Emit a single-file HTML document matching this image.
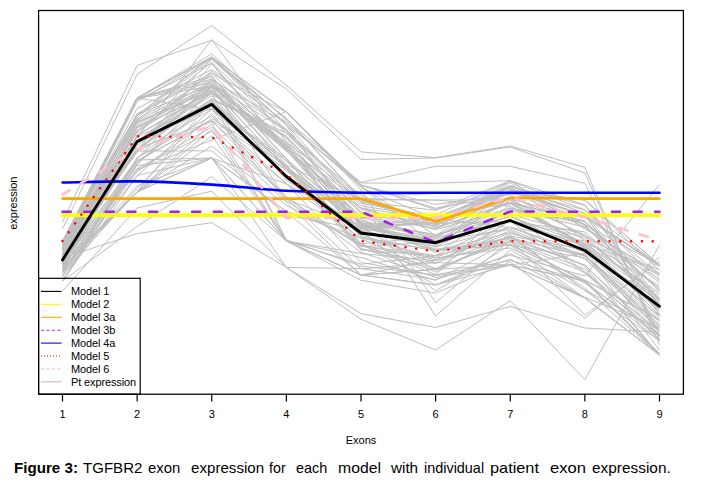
<!DOCTYPE html>
<html><head><meta charset="utf-8"><style>
html,body{margin:0;padding:0;background:#fff;width:702px;height:484px;overflow:hidden;position:relative;font-family:"Liberation Sans",sans-serif;}
svg{position:absolute;left:0;top:0;}
.w{position:absolute;top:458.6px;font-size:15px;line-height:18px;color:#000;white-space:pre;transform-origin:0 0;}
.fig{position:absolute;left:14px;top:458px;font-size:15px;line-height:18px;font-weight:bold;}
</style></head><body>
<svg width="702" height="484" viewBox="0 0 702 484">
<g fill="none" stroke="#bebebe" stroke-width="1" stroke-linejoin="round">
<polyline points="62.50,229.00 137.12,74.30 211.75,25.40 286.38,85.30 361.00,151.90 435.62,157.60 510.25,146.00 584.88,167.40 659.50,345.00"/>
<polyline points="62.50,222.00 137.12,65.40 211.75,40.40 286.38,89.00 361.00,159.40 435.62,158.00 510.25,147.00 584.88,173.00 659.50,340.00"/>
<polyline points="62.50,245.00 137.12,98.00 211.75,54.00 286.38,120.00 361.00,182.40 435.62,166.30 510.25,166.30 584.88,183.30 659.50,335.00"/>
<polyline points="62.50,248.00 137.12,101.50 211.75,58.60 286.38,125.00 361.00,183.00 435.62,183.20 510.25,180.60 584.88,205.00 659.50,300.00"/>
<polyline points="62.50,291.00 137.12,208.00 211.75,191.20 286.38,267.50 361.00,319.20 435.62,350.00 510.25,300.60 584.88,379.80 659.50,245.00"/>
<polyline points="62.50,258.00 137.12,233.60 211.75,222.70 286.38,267.50 361.00,313.60 435.62,327.50 510.25,306.40 584.88,328.00 659.50,332.00"/>
<polyline points="62.50,270.00 137.12,186.00 211.75,158.00 286.38,267.50 361.00,268.50 435.62,279.60 510.25,255.00 584.88,276.00 659.50,184.60"/>
<polyline points="62.50,281.00 137.12,226.50 211.75,176.60 286.38,241.00 361.00,280.30 435.62,293.00 510.25,262.00 584.88,318.00 659.50,257.00"/>
<polyline points="62.50,262.00 137.12,170.00 211.75,140.00 286.38,111.40 361.00,190.00 435.62,302.60 510.25,240.00 584.88,315.00 659.50,261.40"/>
<polyline points="62.50,250.00 137.12,137.00 211.75,39.60 286.38,142.00 361.00,200.00 435.62,316.00 510.25,250.00 584.88,290.00 659.50,330.00"/>
<polyline points="62.50,255.00 137.12,150.00 211.75,64.00 286.38,150.00 361.00,230.00 435.62,291.00 510.25,245.00 584.88,280.00 659.50,320.00"/>
<polyline points="62.50,242.37 137.12,115.74 211.75,57.00 286.38,112.00 361.00,185.00 435.62,204.43 510.25,194.11 584.88,200.00 659.50,265.00"/>
<polyline points="62.50,245.09 137.12,125.55 211.75,80.09 286.38,122.81 361.00,186.23 435.62,235.52 510.25,189.77 584.88,200.00 659.50,265.00"/>
<polyline points="62.50,243.17 137.12,98.00 211.75,57.82 286.38,118.46 361.00,198.68 435.62,222.38 510.25,191.25 584.88,200.00 659.50,270.22"/>
<polyline points="62.50,241.00 137.12,98.00 211.75,57.00 286.38,112.00 361.00,186.48 435.62,245.94 510.25,197.70 584.88,224.81 659.50,265.00"/>
<polyline points="62.50,246.82 137.12,108.57 211.75,69.53 286.38,122.24 361.00,185.00 435.62,209.54 510.25,181.00 584.88,228.95 659.50,273.28"/>
<polyline points="62.50,244.36 137.12,120.22 211.75,62.24 286.38,133.42 361.00,195.22 435.62,225.04 510.25,198.90 584.88,217.81 659.50,265.00"/>
<polyline points="62.50,247.61 137.12,132.38 211.75,71.00 286.38,131.48 361.00,203.33 435.62,216.67 510.25,191.51 584.88,215.79 659.50,266.77"/>
<polyline points="62.50,241.59 137.12,114.57 211.75,85.16 286.38,147.21 361.00,216.22 435.62,228.44 510.25,202.26 584.88,221.10 659.50,290.71"/>
<polyline points="62.50,244.90 137.12,98.39 211.75,86.19 286.38,137.37 361.00,212.55 435.62,228.86 510.25,182.59 584.88,241.20 659.50,315.45"/>
<polyline points="62.50,250.24 137.12,117.59 211.75,59.23 286.38,118.59 361.00,199.32 435.62,227.38 510.25,203.20 584.88,221.26 659.50,300.82"/>
<polyline points="62.50,250.16 137.12,130.57 211.75,73.43 286.38,112.00 361.00,185.00 435.62,208.26 510.25,194.65 584.88,236.98 659.50,274.37"/>
<polyline points="62.50,250.49 137.12,115.55 211.75,57.00 286.38,125.41 361.00,227.73 435.62,238.30 510.25,189.56 584.88,210.07 659.50,280.92"/>
<polyline points="62.50,252.96 137.12,121.77 211.75,90.68 286.38,138.23 361.00,226.90 435.62,217.68 510.25,187.57 584.88,224.81 659.50,305.76"/>
<polyline points="62.50,250.05 137.12,98.00 211.75,57.00 286.38,112.16 361.00,187.50 435.62,219.10 510.25,190.34 584.88,227.50 659.50,288.18"/>
<polyline points="62.50,248.64 137.12,123.27 211.75,85.04 286.38,130.39 361.00,198.82 435.62,200.00 510.25,206.24 584.88,243.40 659.50,292.50"/>
<polyline points="62.50,241.22 137.12,114.19 211.75,75.88 286.38,168.56 361.00,217.68 435.62,214.89 510.25,181.00 584.88,225.86 659.50,290.50"/>
<polyline points="62.50,248.90 137.12,98.00 211.75,109.51 286.38,171.14 361.00,223.18 435.62,225.14 510.25,181.00 584.88,209.91 659.50,265.00"/>
<polyline points="62.50,241.00 137.12,98.00 211.75,82.45 286.38,164.99 361.00,199.82 435.62,200.00 510.25,199.70 584.88,235.00 659.50,279.09"/>
<polyline points="62.50,245.65 137.12,99.94 211.75,63.12 286.38,147.99 361.00,219.16 435.62,252.55 510.25,208.85 584.88,227.16 659.50,276.28"/>
<polyline points="62.50,243.08 137.12,98.00 211.75,76.45 286.38,158.73 361.00,225.29 435.62,246.59 510.25,211.17 584.88,221.47 659.50,290.00"/>
<polyline points="62.50,244.52 137.12,98.00 211.75,57.00 286.38,124.83 361.00,205.87 435.62,217.31 510.25,214.48 584.88,234.86 659.50,304.22"/>
<polyline points="62.50,248.08 137.12,98.00 211.75,79.16 286.38,129.25 361.00,222.86 435.62,234.61 510.25,216.67 584.88,243.83 659.50,269.80"/>
<polyline points="62.50,248.99 137.12,113.92 211.75,72.93 286.38,148.71 361.00,224.56 435.62,244.26 510.25,189.83 584.88,215.82 659.50,265.00"/>
<polyline points="62.50,256.12 137.12,120.70 211.75,82.71 286.38,147.09 361.00,226.26 435.62,222.84 510.25,192.06 584.88,215.27 659.50,314.50"/>
<polyline points="62.50,253.48 137.12,131.49 211.75,85.44 286.38,149.08 361.00,212.02 435.62,224.01 510.25,188.12 584.88,215.75 659.50,313.99"/>
<polyline points="62.50,254.59 137.12,127.57 211.75,84.16 286.38,151.43 361.00,207.87 435.62,229.63 510.25,208.29 584.88,223.78 659.50,282.86"/>
<polyline points="62.50,247.26 137.12,135.72 211.75,58.96 286.38,129.73 361.00,201.75 435.62,217.78 510.25,202.78 584.88,245.70 659.50,306.41"/>
<polyline points="62.50,251.10 137.12,126.92 211.75,93.78 286.38,147.28 361.00,201.42 435.62,210.31 510.25,186.62 584.88,205.31 659.50,304.45"/>
<polyline points="62.50,254.19 137.12,150.11 211.75,85.78 286.38,161.21 361.00,231.56 435.62,219.14 510.25,185.53 584.88,213.52 659.50,305.14"/>
<polyline points="62.50,249.80 137.12,141.88 211.75,86.41 286.38,144.50 361.00,209.44 435.62,226.37 510.25,185.76 584.88,213.37 659.50,274.51"/>
<polyline points="62.50,268.44 137.12,191.82 211.75,100.00 286.38,133.00 361.00,208.12 435.62,218.87 510.25,227.60 584.88,252.04 659.50,300.64"/>
<polyline points="62.50,260.60 137.12,119.06 211.75,78.46 286.38,143.73 361.00,217.82 435.62,236.56 510.25,207.79 584.88,239.33 659.50,297.59"/>
<polyline points="62.50,265.03 137.12,148.55 211.75,98.71 286.38,135.77 361.00,213.46 435.62,244.04 510.25,200.11 584.88,248.10 659.50,305.29"/>
<polyline points="62.50,257.33 137.12,140.65 211.75,108.16 286.38,158.33 361.00,243.80 435.62,236.59 510.25,202.10 584.88,244.75 659.50,294.61"/>
<polyline points="62.50,263.04 137.12,158.62 211.75,80.31 286.38,158.68 361.00,248.67 435.62,263.63 510.25,220.94 584.88,237.02 659.50,303.03"/>
<polyline points="62.50,256.23 137.12,135.90 211.75,90.11 286.38,180.46 361.00,227.96 435.62,223.36 510.25,221.46 584.88,231.95 659.50,299.24"/>
<polyline points="62.50,257.15 137.12,127.10 211.75,86.70 286.38,198.88 361.00,228.52 435.62,240.61 510.25,229.40 584.88,258.94 659.50,330.18"/>
<polyline points="62.50,249.16 137.12,122.53 211.75,89.62 286.38,168.49 361.00,245.74 435.62,255.44 510.25,219.71 584.88,246.52 659.50,310.96"/>
<polyline points="62.50,264.20 137.12,143.01 211.75,87.18 286.38,145.07 361.00,236.73 435.62,262.66 510.25,237.37 584.88,265.11 659.50,335.59"/>
<polyline points="62.50,264.42 137.12,134.93 211.75,91.35 286.38,150.22 361.00,234.38 435.62,239.31 510.25,216.37 584.88,250.94 659.50,337.39"/>
<polyline points="62.50,255.16 137.12,150.73 211.75,87.80 286.38,169.27 361.00,224.08 435.62,241.85 510.25,197.97 584.88,247.58 659.50,309.51"/>
<polyline points="62.50,272.55 137.12,165.38 211.75,158.00 286.38,211.34 361.00,238.15 435.62,250.60 510.25,245.08 584.88,257.87 659.50,328.93"/>
<polyline points="62.50,257.45 137.12,145.46 211.75,93.35 286.38,145.95 361.00,236.81 435.62,257.64 510.25,227.22 584.88,241.12 659.50,286.05"/>
<polyline points="62.50,262.51 137.12,127.89 211.75,92.66 286.38,142.10 361.00,224.69 435.62,247.11 510.25,227.13 584.88,255.91 659.50,325.45"/>
<polyline points="62.50,260.03 137.12,141.06 211.75,95.71 286.38,175.93 361.00,243.67 435.62,274.70 510.25,203.62 584.88,248.72 659.50,317.49"/>
<polyline points="62.50,270.76 137.12,137.00 211.75,102.69 286.38,165.63 361.00,246.49 435.62,241.99 510.25,221.10 584.88,250.22 659.50,320.43"/>
<polyline points="62.50,253.16 137.12,148.46 211.75,121.68 286.38,183.86 361.00,226.09 435.62,250.33 510.25,232.62 584.88,255.30 659.50,324.75"/>
<polyline points="62.50,259.51 137.12,141.96 211.75,80.40 286.38,150.61 361.00,221.07 435.62,234.61 510.25,212.63 584.88,272.17 659.50,330.67"/>
<polyline points="62.50,281.00 137.12,164.52 211.75,90.21 286.38,178.49 361.00,227.07 435.62,269.81 510.25,220.04 584.88,246.08 659.50,298.75"/>
<polyline points="62.50,259.96 137.12,149.75 211.75,99.83 286.38,166.67 361.00,248.78 435.62,270.15 510.25,236.03 584.88,249.61 659.50,308.97"/>
<polyline points="62.50,281.00 137.12,163.00 211.75,101.03 286.38,166.60 361.00,223.34 435.62,237.28 510.25,221.16 584.88,273.25 659.50,336.30"/>
<polyline points="62.50,257.01 137.12,151.94 211.75,109.49 286.38,160.68 361.00,222.60 435.62,249.17 510.25,242.50 584.88,272.07 659.50,339.53"/>
<polyline points="62.50,268.54 137.12,159.96 211.75,158.00 286.38,183.69 361.00,238.35 435.62,272.28 510.25,234.78 584.88,290.60 659.50,340.48"/>
<polyline points="62.50,265.55 137.12,140.99 211.75,92.94 286.38,239.89 361.00,266.10 435.62,274.84 510.25,260.56 584.88,280.47 659.50,353.52"/>
<polyline points="62.50,266.52 137.12,171.81 211.75,118.29 286.38,165.50 361.00,236.85 435.62,250.40 510.25,238.11 584.88,256.04 659.50,315.89"/>
<polyline points="62.50,281.00 137.12,168.85 211.75,127.07 286.38,197.10 361.00,252.28 435.62,277.52 510.25,265.00 584.88,253.31 659.50,350.11"/>
<polyline points="62.50,267.17 137.12,192.00 211.75,135.66 286.38,241.00 361.00,275.00 435.62,259.54 510.25,244.03 584.88,281.12 659.50,340.83"/>
<polyline points="62.50,265.57 137.12,158.33 211.75,99.44 286.38,241.00 361.00,253.46 435.62,260.65 510.25,233.09 584.88,255.06 659.50,321.88"/>
<polyline points="62.50,271.77 137.12,160.55 211.75,120.29 286.38,169.33 361.00,250.07 435.62,255.56 510.25,237.79 584.88,256.20 659.50,326.97"/>
<polyline points="62.50,263.82 137.12,192.00 211.75,146.13 286.38,205.44 361.00,243.90 435.62,285.00 510.25,265.00 584.88,297.37 659.50,327.55"/>
<polyline points="62.50,275.14 137.12,163.70 211.75,103.72 286.38,168.36 361.00,234.60 435.62,260.33 510.25,230.72 584.88,266.11 659.50,355.00"/>
<polyline points="62.50,267.07 137.12,168.88 211.75,131.54 286.38,202.32 361.00,275.00 435.62,269.31 510.25,238.88 584.88,265.17 659.50,339.47"/>
<polyline points="62.50,281.00 137.12,157.70 211.75,115.91 286.38,183.47 361.00,262.51 435.62,275.56 510.25,265.00 584.88,280.65 659.50,319.28"/>
<polyline points="62.50,275.33 137.12,188.42 211.75,113.25 286.38,200.95 361.00,246.02 435.62,258.00 510.25,247.92 584.88,283.04 659.50,335.26"/>
<polyline points="62.50,257.52 137.12,151.00 211.75,150.80 286.38,215.01 361.00,229.50 435.62,250.07 510.25,244.98 584.88,298.00 659.50,355.00"/>
<polyline points="62.50,277.01 137.12,160.87 211.75,120.54 286.38,197.87 361.00,245.45 435.62,268.38 510.25,241.28 584.88,281.78 659.50,355.00"/>
<polyline points="62.50,281.00 137.12,175.79 211.75,109.16 286.38,198.42 361.00,268.89 435.62,262.58 510.25,265.00 584.88,281.26 659.50,353.92"/>
<polyline points="62.50,267.00 137.12,192.00 211.75,129.24 286.38,241.00 361.00,257.47 435.62,280.39 510.25,240.62 584.88,268.99 659.50,355.00"/>
<polyline points="62.50,271.69 137.12,175.50 211.75,158.00 286.38,211.75 361.00,275.00 435.62,269.21 510.25,265.00 584.88,298.00 659.50,355.00"/>
<polyline points="62.50,268.91 137.12,191.74 211.75,123.61 286.38,241.00 361.00,275.00 435.62,285.00 510.25,259.21 584.88,298.00 659.50,355.00"/>
<polyline points="62.50,272.74 137.12,192.00 211.75,158.00 286.38,241.00 361.00,264.23 435.62,255.91 510.25,236.74 584.88,288.26 659.50,355.00"/>
<polyline points="62.50,264.16 137.12,192.00 211.75,158.00 286.38,241.00 361.00,275.00 435.62,285.00 510.25,253.55 584.88,298.00 659.50,355.00"/>
</g>
<g fill="none" stroke-linejoin="round">
<polyline points="62.50,215.10 137.12,215.10 211.75,215.10 286.38,215.10 361.00,215.10 435.62,215.10 510.25,215.10 584.88,215.10 659.50,215.10" stroke="#ffff00" stroke-width="3.7" stroke-linecap="square"/>
<polyline points="62.50,198.60 137.12,198.60 211.75,198.60 286.38,198.60 361.00,198.60 435.62,221.60 510.25,197.80 584.88,198.60 659.50,198.60" stroke="#ffa500" stroke-width="2.6" stroke-linecap="round"/>
<polyline points="62.50,211.80 137.12,211.80 211.75,211.80 286.38,211.80 361.00,211.80 435.62,242.40 510.25,211.50 584.88,211.80 659.50,211.80" stroke="#a020f0" stroke-width="2.5" stroke-linecap="round" stroke-dasharray="8.2 13.4"/>
<path d="M62.50,182.50 C74.94,182.32 112.25,181.05 137.12,181.40 C162.00,181.75 186.88,183.03 211.75,184.60 C236.62,186.17 261.50,189.45 286.38,190.80 C311.25,192.15 336.12,192.37 361.00,192.70 C385.88,193.03 410.75,192.78 435.62,192.80 C460.50,192.82 485.38,192.80 510.25,192.80 C535.12,192.80 560.00,192.80 584.88,192.80 C609.75,192.80 647.06,192.80 659.50,192.80" stroke="#0000ff" stroke-width="2.6" stroke-linecap="round"/>
<polyline points="62.50,260.00 137.12,141.60 211.75,104.40 286.38,176.50 361.00,233.00 435.62,242.70 510.25,220.50 584.88,250.50 659.50,306.30" stroke="#000" stroke-width="2.9" stroke-linecap="round"/>
<polyline points="62.50,241.00 137.12,136.30 211.75,137.20 286.38,174.00 361.00,241.00 435.62,251.40 510.25,241.10 584.88,241.30 659.50,241.30" stroke="#ff0000" stroke-width="2.4" stroke-linecap="round" stroke-dasharray="0.1 10.69"/>
<polyline points="62.50,194.50 137.12,149.00 211.75,126.00 286.38,218.00 361.00,218.00 435.62,218.00 510.25,197.30 584.88,217.50 659.50,240.50" stroke="#ffc0cb" stroke-width="2.7" stroke-linecap="round" stroke-dasharray="8.2 13.32"/>
</g>
<rect x="38.6" y="10.5" width="644.8" height="383.7" fill="none" stroke="#000" stroke-width="1.25"/>
<g stroke="#000" stroke-width="1.2">
<line x1="62.50" y1="394" x2="62.50" y2="401.5"/><line x1="137.12" y1="394" x2="137.12" y2="401.5"/><line x1="211.75" y1="394" x2="211.75" y2="401.5"/><line x1="286.38" y1="394" x2="286.38" y2="401.5"/><line x1="361.00" y1="394" x2="361.00" y2="401.5"/><line x1="435.62" y1="394" x2="435.62" y2="401.5"/><line x1="510.25" y1="394" x2="510.25" y2="401.5"/><line x1="584.88" y1="394" x2="584.88" y2="401.5"/><line x1="659.50" y1="394" x2="659.50" y2="401.5"/>
</g>
<g font-family="Liberation Sans" font-size="11" text-anchor="middle" fill="#000">
<text x="62.50" y="418">1</text><text x="137.12" y="418">2</text><text x="211.75" y="418">3</text><text x="286.38" y="418">4</text><text x="361.00" y="418">5</text><text x="435.62" y="418">6</text><text x="510.25" y="418">7</text><text x="584.88" y="418">8</text><text x="659.50" y="418">9</text>
<text x="361" y="444">Exons</text>
<text transform="translate(16.8,203.2) rotate(-90)">expression</text>
</g>
<rect x="38.6" y="278.3" width="101.6" height="115.9" fill="none" stroke="#000" stroke-width="1.2"/>
<g stroke-width="1.1">
<line x1="41" y1="291.4" x2="61.6" y2="291.4" stroke="#000"/>
<line x1="41" y1="304.4" x2="61.6" y2="304.4" stroke="#ffff00"/>
<line x1="41" y1="317.3" x2="61.6" y2="317.3" stroke="#ffa500"/>
<line x1="41" y1="330.2" x2="61.6" y2="330.2" stroke="#a020f0" stroke-dasharray="3 2.5"/>
<line x1="41" y1="343.1" x2="61.6" y2="343.1" stroke="#0000ff"/>
<line x1="41" y1="356" x2="61.6" y2="356" stroke="#ff0000" stroke-dasharray="1 2"/>
<line x1="41" y1="368.9" x2="61.6" y2="368.9" stroke="#ffc0cb" stroke-dasharray="3 2.5"/>
<line x1="41" y1="381.8" x2="61.6" y2="381.8" stroke="#bebebe"/>
</g>
<g font-family="Liberation Sans" font-size="11" fill="#000" letter-spacing="-0.13">
<text x="71" y="295.4">Model 1</text>
<text x="71" y="308.3">Model 2</text>
<text x="71" y="321.2">Model 3a</text>
<text x="71" y="334.1">Model 3b</text>
<text x="71" y="347">Model 4a</text>
<text x="71" y="359.9">Model 5</text>
<text x="71" y="372.8">Model 6</text>
<text x="71" y="385.7">Pt expression</text>
</g>
</svg>
<span class="w" style="left:14.09px;transform:scaleX(1.0098);font-weight:bold;">Figure 3:</span><span class="w" style="left:83.20px;transform:scaleX(1.0034);">TGFBR2</span><span class="w" style="left:147.80px;transform:scaleX(0.9891);">exon</span><span class="w" style="left:190.80px;transform:scaleX(1.0083);">expression</span><span class="w" style="left:268.50px;transform:scaleX(0.95);">for</span><span class="w" style="left:295.60px;transform:scaleX(0.9594);">each</span><span class="w" style="left:337.75px;transform:scaleX(1.0513);">model</span><span class="w" style="left:390.70px;transform:scaleX(1.0154);">with</span><span class="w" style="left:423.54px;transform:scaleX(0.9607);">individual</span><span class="w" style="left:490.01px;transform:scaleX(1.0864);">patient</span><span class="w" style="left:550.40px;transform:scaleX(1.1094);">exon</span><span class="w" style="left:591.50px;transform:scaleX(1.0263);">expression.</span>
</body></html>
